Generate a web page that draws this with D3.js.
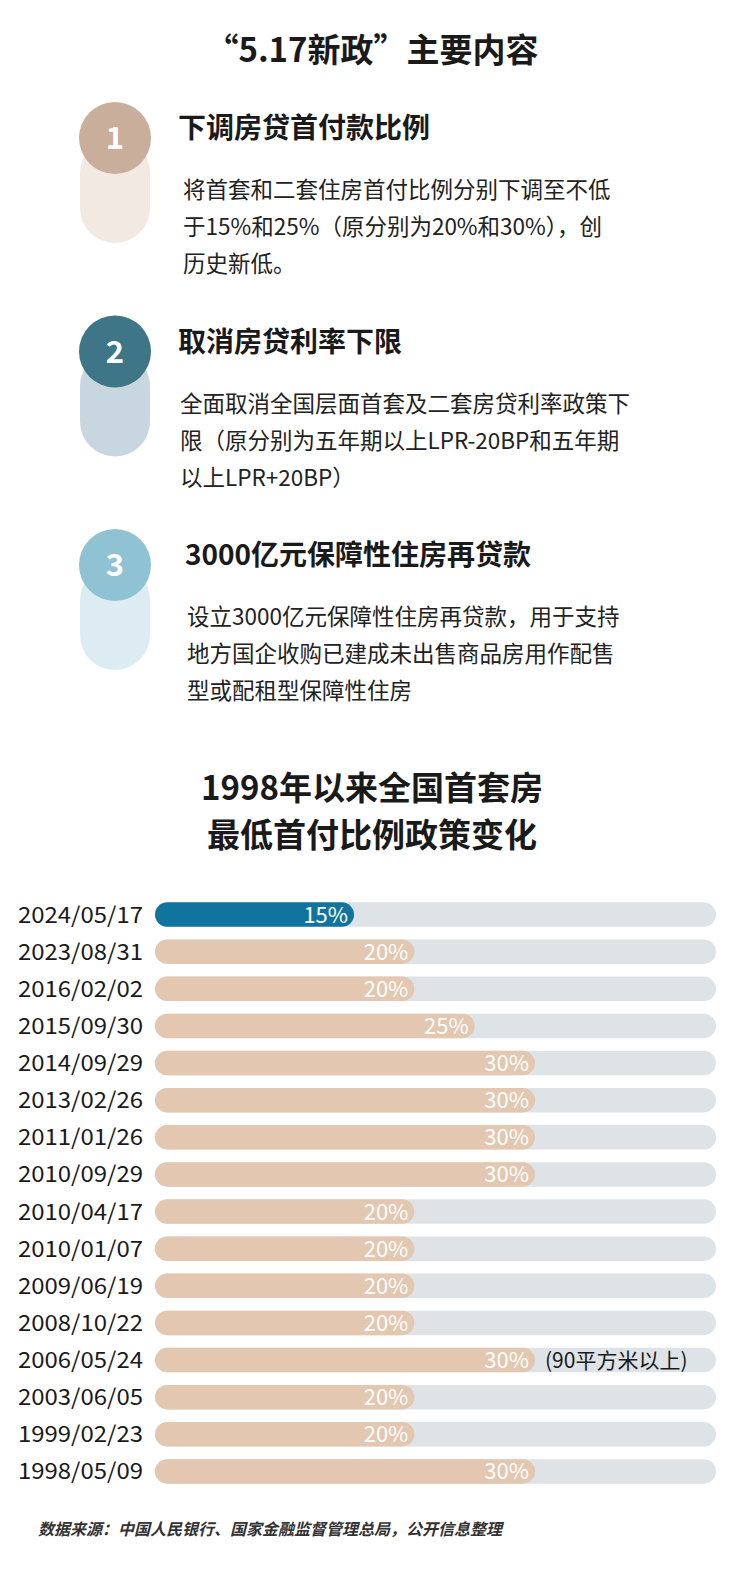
<!DOCTYPE html>
<html><head><meta charset="utf-8">
<script src="https://cdn.jsdelivr.net/npm/d3@7"></script>
<style>body{margin:0;background:#fff}</style>
</head><body>
<script>
// 数据
const dates = ["2024/05/17","2023/08/31","2016/02/02","2015/09/30","2014/09/29","2013/02/26","2011/01/26","2010/09/29","2010/04/17","2010/01/07","2009/06/19","2008/10/22","2006/05/24","2003/06/05","1999/02/23","1998/05/09"];
const ratios = [15,20,20,25,30,30,30,30,20,20,20,20,30,20,20,30];
const notes = {"2006/05/24": "(90平方米以上)"};

const items = [
  {num: "1", head: "下调房贷首付款比例", lines: ["将首套和二套住房首付比例分别下调至不低","于15%和25%（原分别为20%和30%），创","历史新低。"]},
  {num: "2", head: "取消房贷利率下限", lines: ["全面取消全国层面首套及二套房贷利率政策下","限（原分别为五年期以上LPR-20BP和五年期","以上LPR+20BP）"]},
  {num: "3", head: "3000亿元保障性住房再贷款", lines: ["设立3000亿元保障性住房再贷款，用于支持","地方国企收购已建成未出售商品房用作配售","型或配租型保障性住房"]}
];
const circleColors = ["#c9ae9c","#3e7688","#8fc2d2"];
const pillColors = ["#f2e9e3","#c8d6df","#ddecf3"];

const width = 744, height = 1585;
const font = "'Noto Sans CJK SC','Noto Sans',sans-serif";
const svg = d3.select("body").append("svg").attr("width", width).attr("height", height)
  .style("font-family", font);

svg.append("text").attr("x", 372).attr("y", 62).attr("text-anchor", "middle")
  .attr("font-size", 33).attr("font-weight", 700).attr("fill", "#1a1a1a").text("“5.17新政”主要内容");

// 三项要点
items.forEach((it, i) => {
  const cy = 138 + i * 213.5;
  const hx = [178, 178, 185][i], bx = [183, 180, 187][i];
  svg.append("rect").attr("x", 80).attr("y", cy).attr("width", 70).attr("height", 105)
    .attr("rx", 35).attr("fill", pillColors[i]);
  svg.append("circle").attr("cx", 115).attr("cy", cy).attr("r", 36).attr("fill", circleColors[i]);
  svg.append("text").attr("x", 115).attr("y", cy + 11).attr("text-anchor", "middle")
    .attr("font-size", 31).attr("font-weight", 700).attr("fill", "#fff").text(it.num);
  svg.append("text").attr("x", hx).attr("y", cy + 0).attr("font-size", 28).attr("font-weight", 700)
    .attr("fill", "#1a1a1a").text(it.head);
  it.lines.forEach((l, j) => {
    svg.append("text").attr("x", bx).attr("y", cy + 60 + j * 37).attr("font-size", 22.5)
      .attr("fill", "#222").text(l);
  });
});

// 图表标题
svg.append("text").attr("x", 372).attr("y", 800).attr("text-anchor", "middle")
  .attr("font-size", 33).attr("font-weight", 700).attr("fill", "#1a1a1a").text("1998年以来全国首套房");
svg.append("text").attr("x", 372).attr("y", 847).attr("text-anchor", "middle")
  .attr("font-size", 33).attr("font-weight", 700).attr("fill", "#1a1a1a").text("最低首付比例政策变化");

// 比例尺
const y = d3.scaleBand().domain(dates).range([896, 1490]).paddingInner(0.34).paddingOuter(0.17);
const x = d3.scaleLinear().domain([-1.5, 45]).range([155, 716]);
const bh = y.bandwidth();

const rows = svg.append("g").selectAll("g").data(dates).enter().append("g")
  .attr("transform", d => `translate(0,${y(d)})`);

rows.append("rect").attr("x", 155).attr("width", 561).attr("height", bh).attr("rx", bh / 2).attr("fill", "#dde3e6");
rows.append("rect").attr("x", 155).attr("width", (d, i) => x(ratios[i]) - 155).attr("height", bh)
  .attr("rx", bh / 2).attr("fill", (d, i) => i === 0 ? "#10749f" : "#e3c7b0");
rows.append("text").attr("x", (d, i) => x(ratios[i]) - 6).attr("y", bh / 2 + 8).attr("text-anchor", "end")
  .attr("font-size", 22).attr("fill", "#fff").text((d, i) => ratios[i] + "%");
rows.append("text").attr("x", 18).attr("y", bh / 2 + 8).attr("font-size", 22).attr("fill", "#1a1a1a")
  .attr("textLength", 125).attr("lengthAdjust", "spacingAndGlyphs").text(d => d);
rows.filter(d => notes[d]).append("text").attr("x", 545).attr("y", bh / 2 + 8)
  .attr("font-size", 21).attr("fill", "#1a1a1a").text(d => notes[d]);

svg.append("text").attr("x", 38).attr("y", 1535).attr("font-size", 16).attr("font-weight", 700)
  .attr("font-style", "italic").attr("fill", "#333").text("数据来源：中国人民银行、国家金融监督管理总局，公开信息整理");
</script>
</body></html>
